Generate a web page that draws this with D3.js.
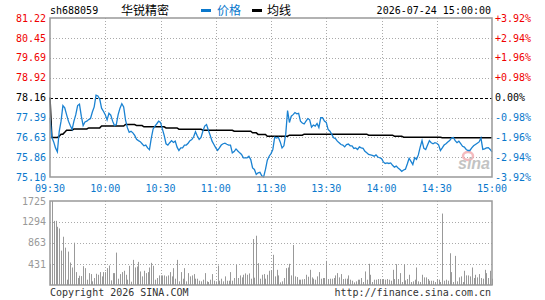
<!DOCTYPE html>
<html>
<head>
<meta charset="utf-8">
<script src="https://d3js.org/d3.v7.min.js"></script>
<style>
  body { margin: 0; background: #fff; }
  text { font-family: "DejaVu Sans Mono", monospace; font-size: 10px; }
  .cjk { font-family: "Noto Sans CJK SC", sans-serif; font-size: 12px; }
</style>
</head>
<body>
<svg id="chart" width="545" height="300"></svg>
<script>
// ---- data ----
var code = "sh688059", name = "华锐精密", stamp = "2026-07-24 15:00:00";
var prevClose = 78.16;

var timeLabels = ["09:30", "10:00", "10:30", "11:00", "11:30", "13:30", "14:00", "14:30", "15:00"];
var priceTicks = ["81.22", "80.45", "79.69", "78.92", "78.16", "77.39", "76.63", "75.86", "75.10"];
var pctTicks = ["+3.92%", "+2.94%", "+1.96%", "+0.98%", "0.00%", "-0.98%", "-1.96%", "-2.94%", "-3.92%"];
var volTicks = [1725, 1294, 863, 431];

var price = [
  77.38, 76.63, 76.45, 76.22, 76.07, 76.85, 77.25, 77.85, 77.76, 77.50,
  77.25, 77.08, 76.93, 77.25, 77.50, 77.85, 77.90, 77.44, 77.08, 77.22,
  77.25, 77.31, 77.35, 77.60, 77.80, 78.25, 78.22, 78.10, 77.75, 77.63,
  77.50, 77.30, 77.55, 77.48, 77.25, 77.08, 77.12, 77.50, 77.75, 77.92,
  77.80, 77.30, 77.00, 76.82, 76.86, 76.80, 76.70, 76.55, 76.50, 76.46,
  76.38, 76.30, 76.33, 76.22, 76.15, 76.60, 76.95, 77.06, 77.15, 77.25,
  77.20,
  76.95, 76.70, 76.38, 76.33, 76.42, 76.50, 76.43, 76.48, 76.25, 76.12,
  76.22, 76.22, 76.33, 76.33, 76.40, 76.50, 76.54, 76.65, 76.84, 76.68,
  76.55, 76.62, 76.86, 77.06, 77.12, 76.90, 76.70, 76.48, 76.35, 76.22,
  76.12, 76.22, 76.33, 76.38, 76.40, 76.36, 76.33, 76.33, 76.03, 76.08,
  76.18, 76.10, 76.03, 75.97, 75.84, 75.84, 75.84, 75.90, 75.77, 75.45,
  75.39, 75.20, 75.26, 75.28, 75.15, 75.10, 75.39, 75.75, 75.90, 76.00,
  76.16, 76.63, 76.60, 76.63, 76.45, 76.22, 76.30, 76.75, 77.66, 77.20,
  77.44, 77.50, 77.58, 77.53, 77.55, 77.25, 77.18, 77.14, 77.25, 77.35,
  77.30, 77.02, 77.10, 77.06, 77.16, 77.00, 77.38, 77.38, 77.25, 77.20,
  76.93, 76.86, 76.74, 76.61, 76.58, 76.48, 76.42, 76.35, 76.33, 76.26,
  76.35, 76.37, 76.30, 76.30, 76.20, 76.22, 76.16, 76.26, 76.22, 76.20,
  76.09, 76.03, 75.97, 75.95, 75.93, 75.90, 75.95, 75.87, 75.84, 75.81,
  75.68, 75.62, 75.64, 75.62, 75.64, 75.55, 75.48, 75.52, 75.45, 75.39,
  75.32, 75.37, 75.40, 75.60, 75.82, 75.70, 75.58, 75.84, 75.78, 75.95,
  76.25, 76.50, 76.20, 76.16, 76.33, 76.50, 76.42, 76.38, 76.42, 76.40,
  76.34, 76.12, 76.22, 76.33, 76.38, 76.45, 76.50, 76.60, 76.62, 76.50,
  76.42, 76.48, 76.38, 76.28, 76.25, 76.16, 76.12, 76.12, 76.22, 76.30,
  76.35, 76.40, 76.45, 76.60, 76.16, 76.18, 76.22, 76.23, 76.16, 76.07
];

var avgPrice = [
  78.16, 76.62, 76.62, 76.62, 76.62, 76.67, 76.75, 76.75, 76.82, 76.90,
  76.90, 76.90, 76.90, 76.95, 76.95, 76.95, 76.95, 76.95, 76.95, 76.95,
  76.95, 76.99, 76.99, 76.99, 76.99, 76.99, 76.99, 76.99, 77.06, 77.06,
  77.06, 77.06, 77.06, 77.06, 77.06, 77.06, 77.06, 77.06, 77.06, 77.06,
  77.06, 77.12, 77.12, 77.12, 77.12, 77.12, 77.12, 77.08, 77.08, 77.08,
  77.08, 77.03, 77.03, 77.03, 77.03, 77.03, 77.03, 77.03, 77.03, 77.03,
  77.03, 77.03, 77.03, 76.99, 76.99, 76.99, 76.99, 76.99, 76.99, 76.99,
  76.94, 76.94, 76.94, 76.94, 76.94, 76.94, 76.94, 76.94, 76.94, 76.94,
  76.94, 76.94, 76.94, 76.90, 76.90, 76.90, 76.90, 76.90, 76.90, 76.90,
  76.90, 76.90, 76.90, 76.90, 76.90, 76.90, 76.90, 76.90, 76.90, 76.90,
  76.86, 76.86, 76.86, 76.86, 76.86, 76.86, 76.86, 76.86, 76.86, 76.86,
  76.80, 76.80, 76.80, 76.74, 76.74, 76.74, 76.74, 76.74, 76.67, 76.67,
  76.67, 76.67, 76.67, 76.67, 76.67, 76.67, 76.67, 76.67, 76.67, 76.67,
  76.71, 76.71, 76.71, 76.71, 76.71, 76.71, 76.71, 76.71, 76.75, 76.75,
  76.75, 76.75, 76.75, 76.75, 76.75, 76.75, 76.75, 76.75, 76.75, 76.75,
  76.75, 76.75, 76.75, 76.75, 76.75, 76.75, 76.75, 76.75, 76.75, 76.75,
  76.75, 76.75, 76.75, 76.75, 76.75, 76.75, 76.75, 76.75, 76.75, 76.75,
  76.75, 76.75, 76.75, 76.71, 76.71, 76.71, 76.71, 76.71, 76.71, 76.71,
  76.71, 76.71, 76.71, 76.71, 76.71, 76.71, 76.71, 76.67, 76.67, 76.67,
  76.67, 76.67, 76.63, 76.63, 76.63, 76.63, 76.63, 76.63, 76.63, 76.63,
  76.63, 76.63, 76.63, 76.63, 76.63, 76.63, 76.63, 76.63, 76.63, 76.63,
  76.63, 76.63, 76.63, 76.61, 76.61, 76.61, 76.61, 76.61, 76.61, 76.61,
  76.61, 76.61, 76.61, 76.61, 76.61, 76.61, 76.61, 76.61, 76.61, 76.61,
  76.61, 76.61, 76.61, 76.61, 76.61, 76.61, 76.61, 76.61, 76.61, 76.61,
  76.61
];

var volume = [
  435, 1725, 1317, 1317, 1195, 1161, 706, 991, 767, 109,
  686, 462, 360, 869, 265, 143, 190, 183, 387, 346,
  109, 244, 224, 75, 143, 231, 210, 265, 177, 265,
  265, 346, 400,
  95, 244, 244, 665, 129, 224, 265, 292, 210, 109,
  394, 68, 516, 360, 380, 475, 278, 177, 292, 244,
  265, 360, 455, 394, 109, 143, 197, 197,
  197, 197, 177, 197, 265, 177, 346, 129, 516, 75,
  265, 129, 346, 75, 244, 177, 197, 224, 129, 129,
  88, 75, 109, 244, 75, 61, 109, 224, 88, 75,
  400, 88, 129, 75, 177, 88, 88, 265, 88, 143,
  414, 143, 197, 156, 210, 238, 210, 238, 129, 944,
  150, 1012, 448, 129, 210, 224, 129, 210, 292, 306,
  620,
  177, 312, 197, 54, 75, 143, 346, 360, 435, 197,
  822, 177, 163, 109, 109, 115, 122, 210, 170, 312,
  156, 129, 109, 177, 265, 129, 143, 143, 496, 122,
  129, 129, 143, 197, 244, 156, 224, 122, 129, 129,
  197, 109, 88, 54, 75, 109, 109, 143, 61, 278,
  109, 435, 210, 61, 109, 109, 122, 122, 109, 122,
  109, 122, 109, 88, 312, 122, 428, 122, 244, 61,
  428, 95, 122, 210, 61, 75, 109, 360, 75, 61,
  210, 156, 156, 122, 88, 88, 88, 61, 122, 109,
  61, 1467, 88, 109, 88, 652, 265, 61, 598, 75,
  156, 177, 61, 292, 197, 197, 177, 360, 143, 210,
  156, 224, 143, 129, 312, 244, 143, 292, 129
];

// ---- layout ----
var svg = d3.select("#chart");
var left = 50, right = 492;
var pTop = 18, pBot = 177, vTop = 201, vBot = 285;
var red = "#f00000", blue = "#0a78cc", grid = "#aaa", frame = "#999";

var x = d3.scaleLinear().domain([0, 240]).range([left, right]);
var yP = d3.scaleLinear().domain([+priceTicks[8], +priceTicks[0]]).range([pBot, pTop]);
var yV = d3.scaleLinear().domain([0, volTicks[0]]).range([vBot, vTop]);

svg.append("rect").attr("width", 545).attr("height", 300).attr("fill", "#fff");

function tickColor(i) { return i < 4 ? red : (i == 4 ? "#000" : blue); }

// vertical grid (both panels)
var vIdx = d3.range(1, 8).map(function(k) { return k * 30; });
[[pTop, pBot], [vTop, vBot]].forEach(function(r) {
  svg.append("g").selectAll("line").data(vIdx).enter().append("line")
    .attr("x1", function(d) { return Math.round(x(d)) + 0.5; })
    .attr("x2", function(d) { return Math.round(x(d)) + 0.5; })
    .attr("y1", r[0]).attr("y2", r[1])
    .attr("stroke", grid).attr("stroke-dasharray", "1,2");
});

// price horizontal grid
svg.append("g").selectAll("line").data(priceTicks.slice(1, 8)).enter().append("line")
  .attr("x1", left).attr("x2", right)
  .attr("y1", function(d) { return Math.round(yP(+d)) + 0.5; })
  .attr("y2", function(d) { return Math.round(yP(+d)) + 0.5; })
  .attr("stroke", function(d) { return +d == prevClose ? "#000" : grid; })
  .attr("stroke-dasharray", function(d) { return +d == prevClose ? "3,2" : "1,2"; });

// volume horizontal grid
svg.append("g").selectAll("line").data(volTicks.slice(1)).enter().append("line")
  .attr("x1", left).attr("x2", right)
  .attr("y1", function(d) { return Math.round(yV(d)) + 0.5; })
  .attr("y2", function(d) { return Math.round(yV(d)) + 0.5; })
  .attr("stroke", grid).attr("stroke-dasharray", "1,2");

// watermark
var wm = svg.append("g").attr("opacity", 0.8);
wm.append("ellipse").attr("cx", 468).attr("cy", 156).attr("rx", 5).attr("ry", 4)
  .attr("fill", "none").attr("stroke", "#f2a9ae").attr("stroke-width", 2.5);
wm.append("text").attr("x", 474).attr("y", 169).attr("text-anchor", "middle")
  .style("font-family", "Liberation Sans, sans-serif").style("font-size", "16px")
  .style("font-weight", "bold").style("font-style", "italic")
  .attr("fill", "#b5b5b5").text("sina");

// volume bars
svg.append("g").selectAll("line").data(volume).enter().append("line")
  .attr("x1", function(d, i) { return Math.round(x(i)) + 0.5; })
  .attr("x2", function(d, i) { return Math.round(x(i)) + 0.5; })
  .attr("y1", yV(0))
  .attr("y2", function(d) { return yV(d); })
  .attr("stroke", "#999").attr("stroke-width", 1);

// avg and price lines
var avgLine = d3.line().x(function(d, i) { return x(i); }).y(function(d) { return yP(d); });
svg.append("path").datum(avgPrice).attr("d", avgLine)
  .attr("fill", "none").attr("stroke", "#000").attr("stroke-width", 1.5);
svg.append("path").datum(price).attr("d", avgLine)
  .attr("fill", "none").attr("stroke", "#1a82d2").attr("stroke-width", 1.3);

// frames
svg.append("rect").attr("x", left).attr("y", pTop).attr("width", right - left).attr("height", pBot - pTop)
  .attr("fill", "none").attr("stroke", frame).attr("stroke-width", 1.5);
svg.append("rect").attr("x", left).attr("y", vTop).attr("width", right - left).attr("height", vBot - vTop)
  .attr("fill", "none").attr("stroke", frame).attr("stroke-width", 1.5);

// price axis labels
svg.append("g").selectAll("text").data(priceTicks).enter().append("text")
  .attr("x", 46).attr("y", function(d) { return yP(+d); })
  .attr("dy", "0.35em").attr("text-anchor", "end")
  .attr("fill", function(d, i) { return tickColor(i); })
  .text(function(d) { return d; });
svg.append("g").selectAll("text").data(pctTicks).enter().append("text")
  .attr("x", 495).attr("y", function(d, i) { return yP(+priceTicks[i]); })
  .attr("dy", "0.35em")
  .attr("fill", function(d, i) { return tickColor(i); })
  .text(function(d) { return d; });

// volume labels
svg.append("g").selectAll("text").data(volTicks).enter().append("text")
  .attr("x", 46).attr("y", function(d) { return yV(d); })
  .attr("dy", "0.35em").attr("text-anchor", "end")
  .attr("fill", "#999").text(function(d) { return d; });

// time labels
svg.append("g").selectAll("text").data(timeLabels).enter().append("text")
  .attr("x", function(d, i) { return x(i * 30); }).attr("y", 192)
  .attr("text-anchor", "middle").attr("fill", blue)
  .text(function(d) { return d; });

// header
svg.append("text").attr("x", 50).attr("y", 14).attr("fill", "#000").text(code);
svg.append("text").attr("class", "cjk").attr("x", 121).attr("y", 15).attr("fill", "#000").text(name);
svg.append("rect").attr("x", 201).attr("y", 9).attr("width", 10).attr("height", 3).attr("fill", blue);
svg.append("text").attr("class", "cjk").attr("x", 217).attr("y", 15).attr("fill", blue).text("价格");
svg.append("rect").attr("x", 252).attr("y", 9).attr("width", 10).attr("height", 3).attr("fill", "#000");
svg.append("text").attr("class", "cjk").attr("x", 267).attr("y", 15).attr("fill", "#000").text("均线");
svg.append("text").attr("x", 491).attr("y", 14).attr("text-anchor", "end").attr("fill", "#000").text(stamp);

// footer
svg.append("text").attr("x", 50).attr("y", 296).attr("fill", "#333").text("Copyright 2026 SINA.COM");
svg.append("text").attr("x", 491).attr("y", 296).attr("text-anchor", "end").attr("fill", "#333").text("http://finance.sina.com.cn");
</script>
</body>
</html>
